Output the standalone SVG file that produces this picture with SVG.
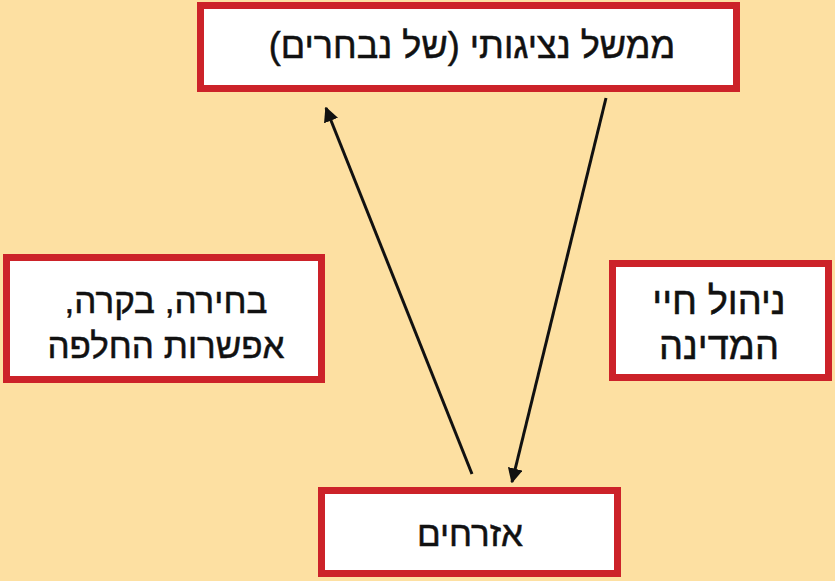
<svg xmlns="http://www.w3.org/2000/svg" width="835" height="581" viewBox="0 0 835 581">
<defs>
<style>
.box{fill:#ffffff;stroke:#cc2229;stroke-width:7}
.t{font-family:"Liberation Sans","DejaVu Sans",sans-serif;fill:#111;stroke:#111;stroke-width:0.5;text-anchor:middle;direction:rtl}
.c{stroke:#111;stroke-width:3;fill:none;marker-end:url(#ah)}
</style>
<marker id="ah" viewBox="0 0 10 10" refX="9" refY="5" markerWidth="5" markerHeight="5" orient="auto" markerUnits="strokeWidth">
<path d="M0,0 L10,5 L0,10 z" fill="#111"/>
</marker>
</defs>
<rect width="835" height="581" fill="#fde0a2"/>
<g id="connectors">
<line class="c" x1="472" y1="474" x2="326" y2="108"/>
<line class="c" x1="606" y1="98" x2="512" y2="482"/>
</g>
<g id="top">
<rect class="box" x="200.5" y="5.5" width="536" height="83"/>
<text class="t" x="472" y="58" font-size="36">ממשל נציגותי (של נבחרים)</text>
</g>
<g id="left">
<rect class="box" x="6.5" y="257.5" width="315" height="122"/>
<text class="t" x="166" y="313" font-size="35">בחירה, בקרה,</text>
<text class="t" x="166" y="358" font-size="35">אפשרות החלפה</text>
</g>
<g id="right">
<rect class="box" x="612.5" y="263.5" width="216" height="114"/>
<text class="t" x="719" y="314" font-size="38">ניהול חיי</text>
<text class="t" x="719" y="359" font-size="38">המדינה</text>
</g>
<g id="bottom">
<rect class="box" x="321.5" y="490.5" width="296" height="83"/>
<text class="t" x="470" y="546" font-size="35">אזרחים</text>
</g>
</svg>
